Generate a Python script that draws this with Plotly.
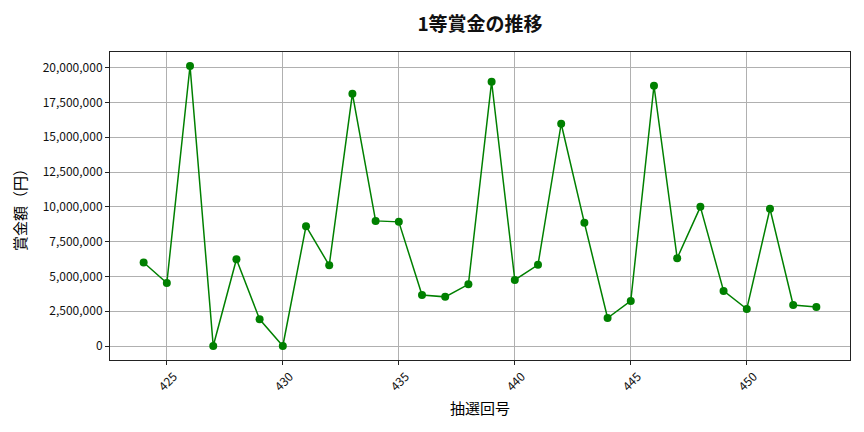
import plotly.graph_objects as go

# 抽選回号と1等賞金（円）
draws = list(range(424, 454))
prizes = [
    6000000, 4530000, 20120000, 0, 6230000, 1920000, 0, 8610000, 5800000, 18130000,
    8990000, 8920000, 3670000, 3530000, 4430000, 18990000, 4750000, 5830000, 15970000, 8850000,
    2010000, 3240000, 18700000, 6310000, 10000000, 3960000, 2660000, 9860000, 2950000, 2800000,
]

y_ticks = list(range(0, 20000001, 2500000))
y_labels = [f"{v:,}" for v in y_ticks]

FONT = "Noto Sans CJK JP, DejaVu Sans, sans-serif"

fig = go.Figure()
fig.add_trace(
    go.Scatter(
        x=draws,
        y=prizes,
        mode="lines+markers",
        line=dict(color="green", width=1.5),
        marker=dict(color="green", size=8),
        name="1等賞金",
    )
)

axis_common = dict(
    showline=True,
    linecolor="#222222",
    linewidth=1,
    mirror=True,
    showgrid=True,
    gridcolor="#b0b0b0",
    gridwidth=1,
    ticks="outside",
    ticklen=4,
    tickcolor="#222222",
    zeroline=False,
    tickfont=dict(size=12, color="#111111"),
)

# ページ本体の余白(8px)を見込んだマージン
fig.update_layout(
    width=864,
    height=432,
    margin=dict(l=102, r=22, t=44, b=80),
    plot_bgcolor="white",
    paper_bgcolor="white",
    font=dict(family=FONT, color="#111111"),
    showlegend=False,
    title=dict(
        text="<b>1等賞金の推移</b>",
        x=(480 - 8) / 864,
        xanchor="center",
        y=1 - 16 / 432,
        yanchor="middle",
        font=dict(size=19),
    ),
)
fig.update_xaxes(
    range=[422.55, 454.45],
    tickmode="array",
    tickvals=[425, 430, 435, 440, 445, 450],
    tickangle=-45,
    ticklabelshift=7,
    title=dict(text="抽選回号", font=dict(size=15, color="#000000"), standoff=10),
    **axis_common,
)
fig.update_yaxes(
    range=[-1006000, 21126000],
    tickmode="array",
    tickvals=y_ticks,
    ticktext=y_labels,
    title=dict(text="賞金額（円）", font=dict(size=15, color="#000000"), standoff=12),
    **axis_common,
)

fig.write_html("out.html")
